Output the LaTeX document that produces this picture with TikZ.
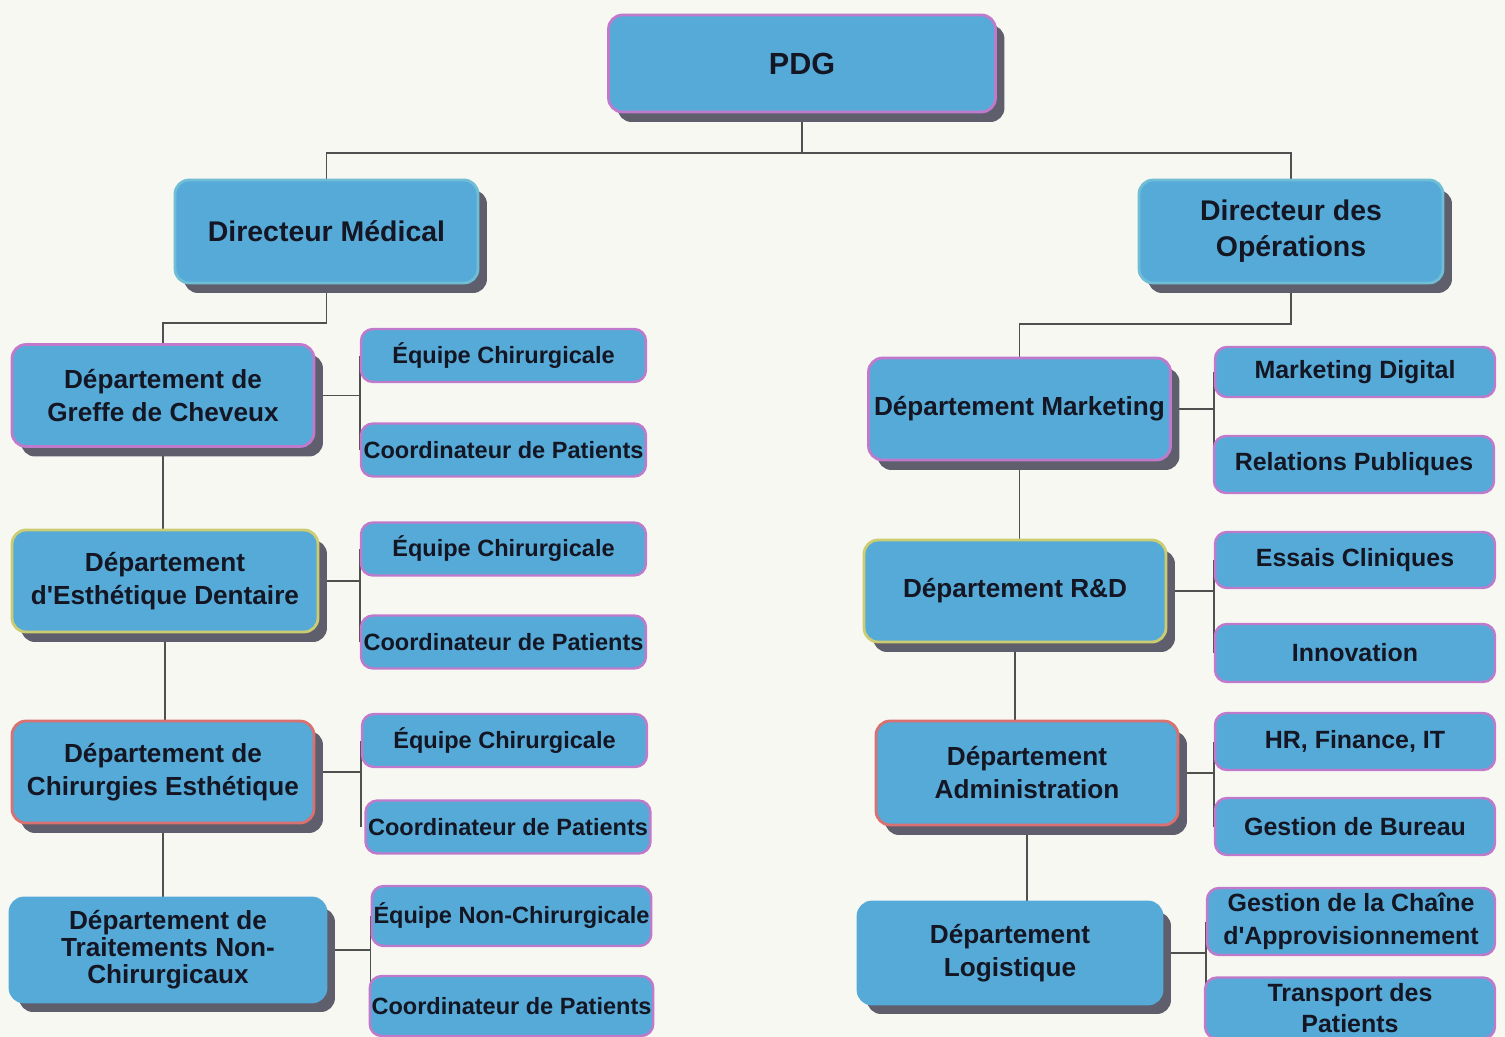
\documentclass[tikz,border=0pt]{standalone}
\usepackage{fontspec}
\setmainfont{Liberation Sans}
\usetikzlibrary{shadows,backgrounds}
\definecolor{bgcol}{RGB}{248,248,243}
\definecolor{boxblue}{RGB}{86,170,216}
\definecolor{shadowgrey}{RGB}{94,94,108}
\definecolor{mpurple}{RGB}{192,122,204}
\definecolor{myellow}{RGB}{204,204,112}
\definecolor{mred}{RGB}{218,112,112}
\definecolor{dirborder}{RGB}{112,190,214}
\definecolor{linegrey}{RGB}{80,80,80}
\definecolor{textdark}{RGB}{20,22,35}

\begin{document}
\begin{tikzpicture}[
    x=0.02cm, y=-0.02cm,
    headnode/.style={rectangle, rounded corners=0.28cm, fill=boxblue, draw=mpurple, line width=1.6pt, text=textdark, font=\bfseries\fontsize{14.9}{18.8}\selectfont, align=center, inner sep=1pt, minimum width=6.04cm, minimum height=2.04cm, drop shadow={shadow xshift=0.18cm, shadow yshift=-0.2cm, fill=shadowgrey, opacity=1}},
    subnode/.style={rectangle, rounded corners=0.24cm, fill=boxblue, draw=mpurple, line width=1.4pt, text=textdark, font=\bfseries\fontsize{13.4}{18.8}\selectfont, align=center, inner sep=1pt, minimum width=5.7cm, minimum height=1.06cm},
    rsubnode/.style={subnode, font=\bfseries\fontsize{14.2}{18.8}\selectfont, minimum width=5.6cm, minimum height=1.14cm},
    link/.style={draw=linegrey, line width=1.1pt}
    ]
    \useasboundingbox (0,0) rectangle (1505,1037);
    %Nodes
    \node[headnode, minimum width=7.74cm, minimum height=1.94cm, font=\bfseries\fontsize{17.4}{21}\selectfont] (pdg) at (802,63.5) {PDG};
    \node[headnode, draw=dirborder, minimum width=6.06cm, minimum height=2.06cm, font=\bfseries\fontsize{16.2}{20.5}\selectfont] (dmed) at (326.5,231.5) {Directeur Médical};
    \node[headnode, draw=dirborder, minimum width=6.08cm, minimum height=2.06cm, font=\bfseries\fontsize{16.2}{20.5}\selectfont] (dops) at (1291,231.5) {Directeur des\\Opérations};

    \node[headnode] (greffe) at (163,395.5) {Département de\\Greffe de Cheveux};
    \node[headnode, draw=myellow, minimum width=6.12cm] (dent) at (165,581) {Département\\d\textquotesingle Esthétique Dentaire};
    \node[headnode, draw=mred] (chir) at (163,772) {Département de\\Chirurgies Esthétique};
    \node[headnode, draw=boxblue, minimum width=6.32cm, minimum height=2.08cm, font=\bfseries\fontsize{14.9}{15.4}\selectfont] (trait) at (168,950) {Département de\\Traitements Non-\\Chirurgicaux};

    \node[headnode] (mkt) at (1019.5,409) {Département Marketing};
    \node[headnode, draw=myellow] (rnd) at (1015,591) {Département R\&D};
    \node[headnode, draw=mred, minimum height=2.08cm] (adm) at (1027,773) {Département\\Administration};
    \node[headnode, draw=boxblue, minimum width=6.08cm] (logi) at (1010,953) {Département\\Logistique};

    \node[subnode] (e1) at (503.5,355.5) {Équipe Chirurgicale};
    \node[subnode] (c1) at (503.5,450) {Coordinateur de Patients};
    \node[subnode] (e2) at (503.5,549) {Équipe Chirurgicale};
    \node[subnode] (c2) at (503.5,642) {Coordinateur de Patients};
    \node[subnode] (e3) at (504.5,740.5) {Équipe Chirurgicale};
    \node[subnode] (c3) at (508,827) {Coordinateur de Patients};
    \node[subnode, minimum width=5.54cm, minimum height=1.2cm] (e4) at (511.5,916) {Équipe Non-Chirurgicale};
    \node[subnode, minimum width=5.54cm, minimum height=1.2cm] (c4) at (511.5,1006) {Coordinateur de Patients};

    \node[rsubnode, minimum height=1.0cm] (md) at (1355,372) {Marketing Digital};
    \node[rsubnode] (rp) at (1354,464.5) {Relations Publiques};
    \node[rsubnode, minimum height=1.12cm] (ec) at (1355,560) {Essais Cliniques};
    \node[rsubnode, minimum height=1.16cm] (inn) at (1355,653) {Innovation};
    \node[rsubnode] (hr) at (1355,741.5) {HR, Finance, IT};
    \node[rsubnode] (gb) at (1355,826.5) {Gestion de Bureau};
    \node[rsubnode, minimum width=5.76cm, minimum height=1.34cm] (gc) at (1351,921.5) {Gestion de la Chaîne\\d\textquotesingle Approvisionnement};
    \node[rsubnode, minimum width=5.8cm, minimum height=1.22cm, font=\bfseries\fontsize{14.2}{17.2}\selectfont] (tp) at (1350,1008) {Transport des\\Patients};

    \begin{scope}[on background layer]
    \fill[bgcol] (0,0) rectangle (1505,1037);
    %Lines
    \draw[link] (pdg.south) -- ++(0,40) -| (dmed.north);
    \draw[link] (pdg.south) -- ++(0,40) -| (dops.north);
    \draw[link] (dmed.south) -- ++(0,39) -| (greffe.north);
    \draw[link] (dops.south) -- ++(0,40) -| (mkt.north);

    \draw[link] (greffe.south) -- (greffe.south |- dent.north);
    \draw[link] (dent.south) -- (dent.south |- chir.north);
    \draw[link] (chir.south) -- (chir.south |- trait.north);
    \draw[link] (mkt.south) -- (mkt.south |- rnd.north);
    \draw[link] (rnd.south) -- (rnd.south |- adm.north);
    \draw[link] (adm.south) -- (adm.south |- logi.north);

    \draw[link] (greffe.east) -- (greffe.east -| e1.west);
    \draw[link] (e1.west) -- (e1.west |- c1.west);
    \draw[link] (dent.east) -- (dent.east -| e2.west);
    \draw[link] (e2.west) -- (e2.west |- c2.west);
    \draw[link] (chir.east) -- (chir.east -| e3.west);
    \draw[link] (e3.west) -- (e3.west |- c3.west);
    \draw[link] (trait.east) -- (trait.east -| e4.west);
    \draw[link] (e4.west) -- (e4.west |- c4.west);

    \draw[link] (mkt.east) -- (mkt.east -| md.west);
    \draw[link] (md.west) -- (md.west |- rp.west);
    \draw[link] (rnd.east) -- (rnd.east -| ec.west);
    \draw[link] (ec.west) -- (ec.west |- inn.west);
    \draw[link] (adm.east) -- (adm.east -| hr.west);
    \draw[link] (hr.west) -- (hr.west |- gb.west);
    \draw[link] (logi.east) -- (logi.east -| gc.west);
    \draw[link] (gc.west) -- (gc.west |- tp.west);
    \end{scope}
\end{tikzpicture}
\end{document}
